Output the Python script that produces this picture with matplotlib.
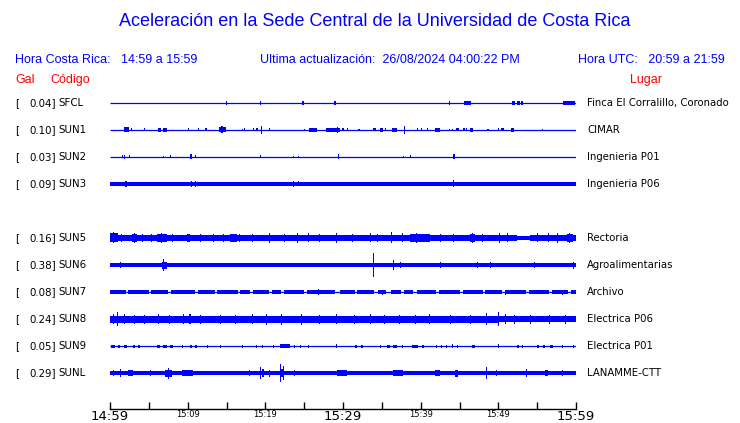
import matplotlib
matplotlib.use("Agg")
import matplotlib.pyplot as plt
from matplotlib.transforms import blended_transform_factory

# station rows (row index 4 is empty in the reference)
codes = ["SFCL", "SUN1", "SUN2", "SUN3", "SUN5", "SUN6", "SUN7", "SUN8", "SUN9", "SUNL"]
rows = [0, 1, 2, 3, 5, 6, 7, 8, 9, 10]
gal = [0.04, 0.10, 0.03, 0.09, 0.16, 0.38, 0.08, 0.24, 0.05, 0.29]
places = ["Finca El Corralillo, Coronado", "CIMAR", "Ingenieria P01", "Ingenieria P06",
          "Rectoria", "Agroalimentarias", "Archivo", "Electrica P06", "Electrica P01",
          "LANAMME-CTT"]

# minutes after 14:59, labels of the time axis
tick_min = [0, 10, 20, 30, 40, 50, 60]
tick_lab = ["14:59", "15:09", "15:19", "15:29", "15:39", "15:49", "15:59"]
big_ticks = ["14:59", "15:29", "15:59"]

# background band of each trace: (start min, end min, half amplitude)
bands = {
    "SFCL": [],
    "SUN1": [],
    "SUN2": [],
    "SUN3": [(0, 60, 1.7)],
    "SUN5": [(0, 52.4, 3.3), (52.4, 54.1, 1.6), (54.1, 60, 3.3)],
    "SUN6": [(0, 28.5, 1.6), (28.5, 60, 2.2)],
    "SUN7": [(0, 2.0, 1.6), (2.3, 5.0, 1.6), (5.3, 7.5, 1.6), (7.8, 11.0, 1.6),
             (11.3, 13.5, 1.6), (13.8, 16.5, 1.6), (16.8, 18.0, 1.6), (18.4, 20.5, 1.6),
             (20.8, 22.0, 1.6), (22.4, 25.0, 1.6), (25.4, 29.0, 1.6), (29.6, 31.5, 1.6),
             (31.8, 34.0, 1.6), (34.5, 35.6, 1.6), (36.2, 37.5, 1.6), (37.9, 39.0, 1.6),
             (39.5, 42.0, 1.6), (42.3, 45.0, 1.6), (45.4, 48.0, 1.6), (48.3, 50.5, 1.6),
             (50.9, 53.5, 1.6), (53.9, 56.5, 1.6), (56.9, 59.0, 1.6), (59.3, 60, 1.6)],
    "SUN8": [(0, 50, 3.5), (50, 60, 3.0)],
    "SUN9": [],
    "SUNL": [(0, 60, 2.2)],
}

# bursts on each trace: (start min, end min, half amplitude)
bursts = {
    "SFCL": [(15.06, 15.06, 2), (19.44, 19.44, 2), (24.85, 24.85, 2), (28.97, 28.97, 2),
             (43.65, 43.65, 2), (45.58, 46.48, 2), (51.76, 52.2, 2), (52.4, 52.8, 2),
             (52.9, 53.17, 2), (58.32, 59.87, 2)],
    "SUN1": [(1.80, 2.45, 2.5), (2.83, 2.83, 1.5), (4.38, 4.38, 1.5), (6.18, 6.57, 2),
             (6.82, 7.34, 2), (10.17, 10.17, 1.5), (11.33, 11.46, 1.5), (12.36, 12.36, 1.5),
             (14.03, 14.94, 2.5), (14.42, 14.42, 3.5), (17.0, 17.0, 1), (17.38, 17.38, 1.5),
             (18.41, 18.6, 1.5), (18.8, 19.05, 1.5), (19.57, 19.57, 4), (20.47, 20.6, 1.5),
             (24.98, 24.98, 1), (25.62, 26.65, 2), (27.81, 29.61, 2), (29.35, 29.35, 3),
             (30.0, 30.0, 1.5), (30.64, 30.64, 1.5), (32.06, 32.06, 1), (33.87, 33.87, 1.5),
             (34.12, 34.12, 1.5), (34.76, 35.15, 2), (35.41, 35.41, 1.5), (36.31, 36.95, 2),
             (37.98, 37.98, 4), (39.53, 39.53, 1.5), (40.17, 40.17, 1.5), (40.94, 40.94, 1.5),
             (41.84, 42.49, 2), (43.65, 43.65, 1), (44.1, 44.1, 1), (44.5, 44.93, 1.5),
             (45.58, 45.58, 1.5), (45.9, 45.9, 1.5), (46.3, 46.74, 2), (48.67, 48.67, 1),
             (49.96, 49.96, 1.5), (50.4, 50.73, 1.5), (51.63, 52.01, 2), (55.75, 55.75, 1)],
    "SUN2": [(1.55, 1.55, 1.5), (1.93, 1.93, 2), (2.45, 2.45, 1.5), (6.95, 6.95, 1),
             (7.85, 7.85, 1.5), (10.36, 10.5, 2.5), (11.07, 11.07, 1.5), (19.44, 19.44, 1.5),
             (23.69, 23.69, 1), (24.33, 24.33, 1), (29.3, 29.45, 2.5), (37.85, 37.85, 1),
             (38.75, 38.75, 1.5), (44.22, 44.36, 2.5)],
    "SUN3": [(2.06, 2.06, 3), (10.43, 10.43, 3), (11.07, 11.07, 3), (11.85, 11.85, 2),
             (12.87, 12.87, 2), (23.69, 23.69, 3), (24.33, 24.33, 2.5), (44.29, 44.29, 3.5)],
    "SUN5": [(0, 1.03, 4.5), (0.5, 0.5, 5.5), (1.5, 1.5, 4), (2.8, 3.5, 4.2), (3.1, 3.1, 5),
             (4.2, 4.2, 4), (5.4, 5.4, 4), (6.1, 7.3, 4.2), (6.6, 6.6, 5), (8.1, 8.1, 4),
             (9.9, 10.3, 4.3), (11.6, 11.6, 4), (13.3, 13.3, 4), (14.6, 14.6, 3.8),
             (15.4, 16.3, 4), (16.7, 16.7, 4), (18.3, 18.3, 4), (20.6, 20.6, 5),
             (22.5, 22.5, 4), (24.2, 24.2, 5), (25.5, 25.5, 4.5), (27.0, 27.0, 4),
             (29.2, 29.2, 5), (31.2, 31.2, 4), (33.5, 33.5, 4.5), (34.4, 34.4, 4),
             (36.3, 36.3, 5.5), (37.6, 37.6, 4.5), (38.6, 41.2, 4.0), (39.4, 39.4, 5),
             (42.5, 42.5, 4), (44.2, 44.2, 4), (46.4, 47.0, 4.2), (46.7, 46.7, 5),
             (48.0, 48.0, 4), (50.2, 50.2, 5), (51.2, 51.2, 4.5), (55.1, 55.1, 4.5),
             (56.4, 56.4, 4.5), (57.6, 57.6, 5), (58.8, 59.6, 4.2), (59.2, 59.2, 5)],
    "SUN6": [(1.29, 1.29, 3), (6.7, 7.3, 3.5), (6.95, 6.95, 6), (33.99, 33.99, 12),
             (36.56, 36.56, 5), (37.34, 37.34, 3), (42.49, 42.49, 3), (47.38, 47.38, 3),
             (48.93, 48.93, 3), (54.72, 54.72, 3), (59.74, 59.74, 3.5)],
    "SUN7": [(26.9, 26.9, 3), (35.1, 35.1, 2.5), (50.9, 50.9, 2.5), (58.3, 58.3, 2.5)],
    "SUN8": [(0.4, 0.4, 5), (1.0, 1.0, 7), (1.9, 1.9, 5), (3.2, 3.2, 4.5), (4.5, 4.5, 4.5),
             (6.2, 6.2, 5), (7.7, 7.7, 4.5), (9.4, 9.4, 5), (10.3, 10.3, 5), (11.6, 11.6, 4.5),
             (14.2, 14.2, 4.5), (16.1, 16.1, 4.5), (18.3, 18.3, 5), (20.2, 20.2, 5.5),
             (22.1, 22.1, 5.5), (24.7, 24.7, 5.5), (27.0, 27.0, 4.5), (29.2, 29.2, 5),
             (31.5, 31.5, 4.5), (33.5, 33.5, 5), (35.4, 35.4, 4.5), (37.3, 37.3, 4.5),
             (39.3, 39.3, 4.5), (41.2, 41.2, 5), (43.8, 43.8, 4.5), (46.4, 46.4, 4.5),
             (48.5, 48.5, 6), (50.0, 50.0, 7), (50.9, 50.9, 5), (52.1, 52.1, 4.5),
             (54.1, 54.1, 4.5), (56.6, 56.6, 4.5), (58.6, 58.6, 4.5)],
    "SUN9": [(0.1, 0.6, 1.5), (1.0, 1.3, 1.5), (1.8, 2.2, 1.5), (3.0, 3.2, 1.5),
             (3.6, 3.9, 1.5), (6.1, 6.4, 1.5), (6.8, 7.3, 1.5), (7.7, 8.1, 1.5),
             (9.3, 9.3, 1.5), (10.3, 10.6, 1.5), (11.0, 11.2, 1.5), (12.6, 12.6, 1.5),
             (14.2, 14.2, 1.5), (17.1, 17.1, 1.5), (18.9, 18.9, 1.5), (19.6, 19.6, 1.5),
             (21.0, 21.0, 1.5), (21.9, 23.2, 2), (23.8, 23.8, 1.5), (24.5, 24.5, 1.5),
             (25.5, 25.5, 1.5), (29.2, 29.2, 2), (31.5, 31.8, 1.5), (32.3, 32.6, 1.5),
             (34.8, 34.8, 1.5), (35.7, 36.0, 1.5), (36.5, 36.9, 1.5), (37.7, 37.7, 1.5),
             (38.9, 39.7, 1.5), (40.3, 40.3, 1.5), (42.1, 42.1, 1.5), (42.7, 42.7, 1.5),
             (43.3, 43.3, 1.5), (44.0, 44.2, 2), (44.8, 44.8, 1.5), (46.6, 47.0, 1.5),
             (50.0, 50.0, 2), (52.4, 52.6, 1.5), (53.0, 53.2, 1.5), (55.0, 55.2, 1.5),
             (55.8, 56.0, 1.5), (56.7, 57.0, 1.5), (58.3, 58.3, 1.5), (59.7, 59.7, 1.5)],
    "SUNL": [(0.4, 0.4, 3), (1.29, 1.29, 4), (2.3, 3.0, 3), (5.2, 5.2, 3),
             (7.1, 8.0, 3.5), (7.5, 7.5, 5.5), (9.3, 10.7, 2.8), (18.0, 18.0, 3),
             (19.4, 19.4, 6), (19.7, 19.7, 4), (20.5, 20.5, 3.5), (21.9, 22.3, 4),
             (22.0, 22.0, 9), (22.3, 22.3, 7), (23.8, 23.8, 3), (29.2, 30.5, 3),
             (36.4, 37.7, 3), (41.8, 42.5, 3), (44.4, 44.8, 3.5), (48.5, 48.5, 6),
             (49.8, 49.8, 3), (53.6, 53.6, 4), (56.0, 56.4, 3.2), (58.2, 58.2, 3)],
}

blue = "#0000ff"
red = "#ff0000"
row_step = 27

fig = plt.figure(figsize=(7.4, 4.23), dpi=100)
ax = fig.add_axes([110 / 740, 14 / 423, 466 / 740, 319 / 423])

for code, r in zip(codes, rows):
    y = r * row_step
    ax.plot([0, 60], [y, y], color=blue, lw=0.9, solid_capstyle="butt")
    for t0, t1, a in bands[code]:
        ax.fill_between([t0, t1], y - a, y + a, color=blue, lw=0)
    for t0, t1, a in bursts[code]:
        ax.bar((t0 + t1) / 2, 2 * a, width=max(t1 - t0, 0.13), bottom=y - a,
               color=blue, lw=0)

ax.set_xlim(0, 60)
ax.set_ylim(306, -13)
for s in ["top", "left", "right"]:
    ax.spines[s].set_visible(False)
ax.spines["bottom"].set_linewidth(1)
ax.set_yticks([])
ax.set_xticks(tick_min)
ax.set_xticks(range(5, 60, 10), minor=True)
ax.set_xticklabels(tick_lab, family="DejaVu Sans")
ax.tick_params(axis="x", which="both", direction="in", length=5.2, width=1, pad=1)
for lab in ax.get_xticklabels():
    lab.set_fontsize(9.5 if lab.get_text() in big_ticks else 6)

# labels on each row
tr = blended_transform_factory(fig.transFigure, ax.transData)
for r, g, code, place in zip(rows, gal, codes, places):
    y = r * row_step
    ax.text(15 / 740, y, "[", transform=tr, fontsize=7.4, va="center", ha="left")
    ax.text(56 / 740, y, "%.2f]" % g, transform=tr, fontsize=7.4, va="center", ha="right")
    ax.text(58 / 740, y, code, transform=tr, fontsize=7.4, va="center", ha="left")
    ax.text(587 / 740, y, place, transform=tr, fontsize=7.3, va="center", ha="left")

hf = "Liberation Sans"
fig.text(375 / 740, 1 - 22 / 423, "Aceleración en la Sede Central de la Universidad de Costa Rica",
         ha="center", va="center", color=blue, fontsize=13, family=hf)
fig.text(15 / 740, 1 - 60 / 423, "Hora Costa Rica:   14:59 a 15:59", ha="left",
         va="center", color=blue, fontsize=9, family=hf)
fig.text(260 / 740, 1 - 60 / 423, "Ultima actualización:  26/08/2024 04:00:22 PM",
         ha="left", va="center", color=blue, fontsize=9, family=hf)
fig.text(725 / 740, 1 - 60 / 423, "Hora UTC:   20:59 a 21:59", ha="right",
         va="center", color=blue, fontsize=9, family=hf)
fig.text(15 / 740, 1 - 80 / 423, "Gal", ha="left", va="center", color=red,
         fontsize=9, family=hf)
fig.text(50 / 740, 1 - 80 / 423, "Código", ha="left", va="center", color=red,
         fontsize=9, family=hf)
fig.text(630 / 740, 1 - 80 / 423, "Lugar", ha="left", va="center", color=red,
         fontsize=9, family=hf)

fig.savefig("out.png", dpi=100)
